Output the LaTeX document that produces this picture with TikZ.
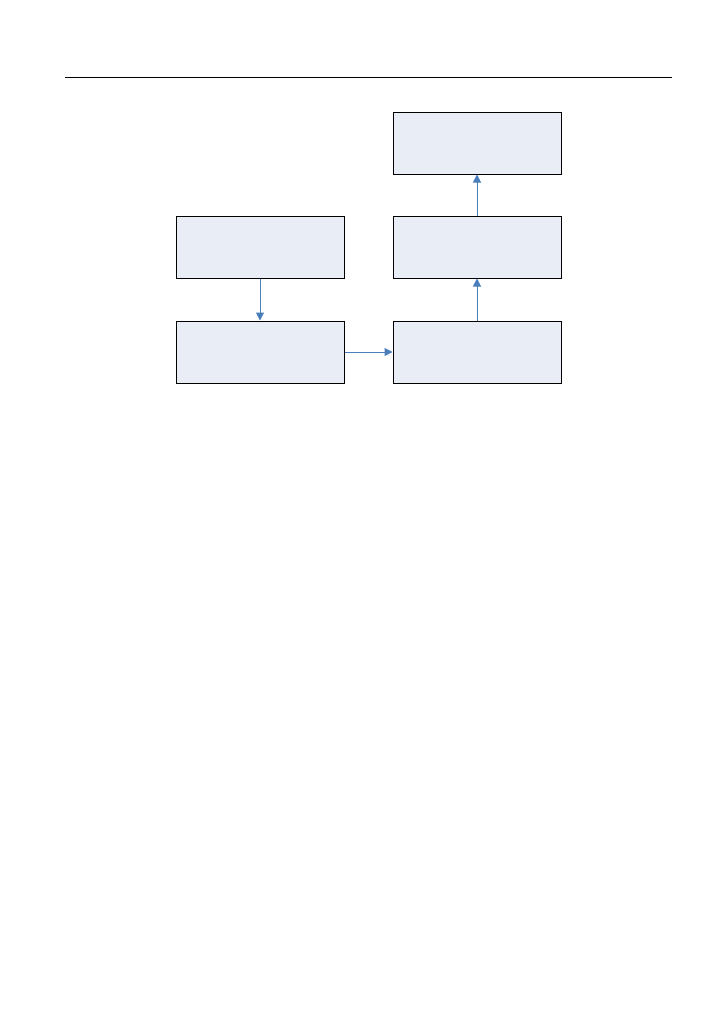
\documentclass[tikz,border=0pt]{standalone}
\usepackage{tikz}
\usetikzlibrary{arrows.meta,positioning}
\definecolor{boxfill}{HTML}{E9EDF6}
\definecolor{linkblue}{HTML}{4A7EBB}
\tikzset{%
	stage/.style = {draw, rectangle, line width=0.75pt, fill=boxfill, minimum width=126pt, minimum height=46.5pt, inner sep=0pt},
	link/.style  = {draw=linkblue, line width=0.75pt, -{Triangle[length=6pt,width=6pt]}},
}
\begin{document}
\begin{tikzpicture}[x=0.75pt,y=-0.75pt]
			\useasboundingbox (0,0) rectangle (726,1032);
			\draw[line width=0.75pt] (65,77.5) -- (672,77.5);
			\node[stage] (top) at (477,143) {};
			\node[stage] (inL) at (260,247) {};
			\node[stage] (midR) at (477,247) {};
			\node[stage] (botL) at (260,352) {};
			\node[stage] (botR) at (477,352) {};
			\draw[link] (inL) -- (botL);
			\draw[link] (botL) -- (botR);
			\draw[link] (botR) -- (midR);
			\draw[link] (midR) -- (top);
			\end{tikzpicture}
\end{document}
